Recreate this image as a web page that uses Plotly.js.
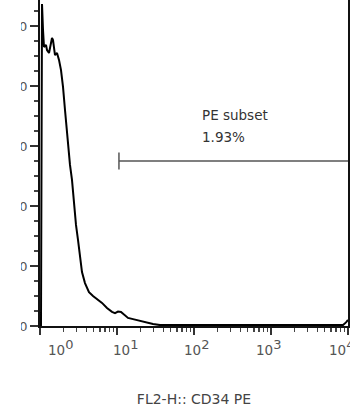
<!DOCTYPE html>
<html>
<head>
<meta charset="utf-8">
<script src="https://cdn.plot.ly/plotly-3.0.1.min.js"></script>
<style>
  html, body { margin: 0; padding: 0; background: #fff; overflow: hidden; }
  #clip { position: absolute; left: 21px; top: 0; width: 329px; height: 410px; overflow: hidden; }
  #chart { position: absolute; left: 0; top: -10px; width: 329px; height: 420px; }
</style>
</head>
<body>
<div id="clip"><div id="chart"></div></div>
<script>
// ---- data ----
const fl2Values = [1.03, 1.062, 1.094, 1.127, 1.196, 1.233, 1.309, 1.349, 1.432, 1.475, 1.566, 1.663, 1.765,
  1.874, 1.990, 2.112, 2.242, 2.310, 2.452, 2.603, 2.764, 2.934, 3.115, 3.307, 3.510, 3.839, 4.328,
  4.880, 5.502, 6.386, 7.413, 8.607, 9.419, 10.31, 11.28, 12.33, 13.90, 16.14, 19.89, 24.53, 29.36,
  36.16, 65.8, 119.7, 250, 500, 1000, 2000, 4000, 8610, 9419, 10000];
const counts = [0, 107.3, 98.7, 93, 93.7, 92, 91, 93, 96, 95.3, 90.3, 91, 88.7,
  85.3, 79.7, 72, 64.3, 59.7, 53.7, 48.7, 39.7, 33.7, 28.7, 22.7, 18, 14.3, 11.3,
  10, 9, 7.7, 6, 4.7, 4.3, 4.8, 4.7, 3.7, 2.7, 2.3, 1.7, 1.0, 0.7,
  0.3, 0.3, 0.3, 0.3, 0.3, 0.3, 0.3, 0.3, 0.3, 1.2, 2];

const xTickValues = [1, 10, 100, 1000, 10000];
const xTickExponents = ["0", "1", "2", "3", "4"];
const yTickValues = [0, 20, 40, 60, 80, 100];
const yTickLabels = ["0", "20", "40", "60", "80", "100"];

const gateName = "PE subset";
const gatePercent = "1.93%";
const gateRange = [10.6, 10000];
const gateLevel = 55;
const xTitle = "FL2-H:: CD34 PE";

// ---- style (not data) ----
const xLabelShift = [20, 8, 2, -3, -7];
const FONT = "DejaVu Sans, Verdana, sans-serif";

const traces = [
  {
    x: fl2Values, y: counts, type: "scatter", mode: "lines",
    line: { color: "#000", width: 2 }, hoverinfo: "skip", showlegend: false
  },
  {
    x: gateRange, y: [gateLevel, gateLevel], type: "scatter", mode: "lines",
    line: { color: "#555", width: 1.5 }, hoverinfo: "skip", showlegend: false
  },
  {
    x: [gateRange[0]], y: [gateLevel], type: "scatter", mode: "markers",
    marker: { symbol: "line-ns-open", size: 12, color: "#555", line: { color: "#555", width: 1.5 } },
    hoverinfo: "skip", showlegend: false
  }
];

const annotations = xTickValues.map((v, i) => ({
  xref: "x", yref: "paper", x: Math.log10(v), y: 0,
  xanchor: "center", yanchor: "top", yshift: -9, xshift: xLabelShift[i],
  text: "10<sup><span style=\"font-size:13px\">" + xTickExponents[i] + "</span></sup>", showarrow: false,
  font: { family: FONT, size: 13.5, color: "#555" }
}));
annotations.push({
  xref: "x", yref: "y", x: Math.log10(119.7), y: 70.5, xanchor: "left", yanchor: "middle",
  text: gateName, showarrow: false, font: { family: FONT, size: 13.5, color: "#333" }
});
annotations.push({
  xref: "x", yref: "y", x: Math.log10(119.7), y: 63, xanchor: "left", yanchor: "middle",
  text: gatePercent, showarrow: false, font: { family: FONT, size: 13.5, color: "#333" }
});

const layout = {
  width: 329, height: 420,
  margin: { l: 19, r: 2, t: 6, b: 84 },
  paper_bgcolor: "#fff", plot_bgcolor: "#fff",
  showlegend: false,
  font: { family: FONT, color: "#444" },
  xaxis: {
    type: "log", range: [0, 4], tickvals: xTickValues, showticklabels: false,
    ticks: "outside", ticklen: 7, tickwidth: 1.5, tickcolor: "#333",
    minor: { ticks: "outside", ticklen: 4, tickwidth: 1.2, tickcolor: "#444", dtick: "D1" },
    showline: true, linecolor: "#111", linewidth: 2, mirror: true,
    showgrid: false, zeroline: false,
    title: { text: xTitle, font: { family: FONT, size: 14, color: "#444" }, standoff: 60 }
  },
  yaxis: {
    range: [0, 110], tickvals: yTickValues, ticktext: yTickLabels,
    ticks: "outside", ticklen: 8, tickwidth: 1.5, tickcolor: "#333",
    minor: { ticks: "outside", ticklen: 4, tickwidth: 1.2, tickcolor: "#444", dtick: 5 },
    tickfont: { family: FONT, size: 13, color: "#555" },
    ticklabelstandoff: 0,
    showline: true, linecolor: "#111", linewidth: 2, mirror: true,
    showgrid: false, zeroline: false
  },
  annotations: annotations
};

Plotly.newPlot("chart", traces, layout, { staticPlot: true, displayModeBar: false });
</script>
</body>
</html>
